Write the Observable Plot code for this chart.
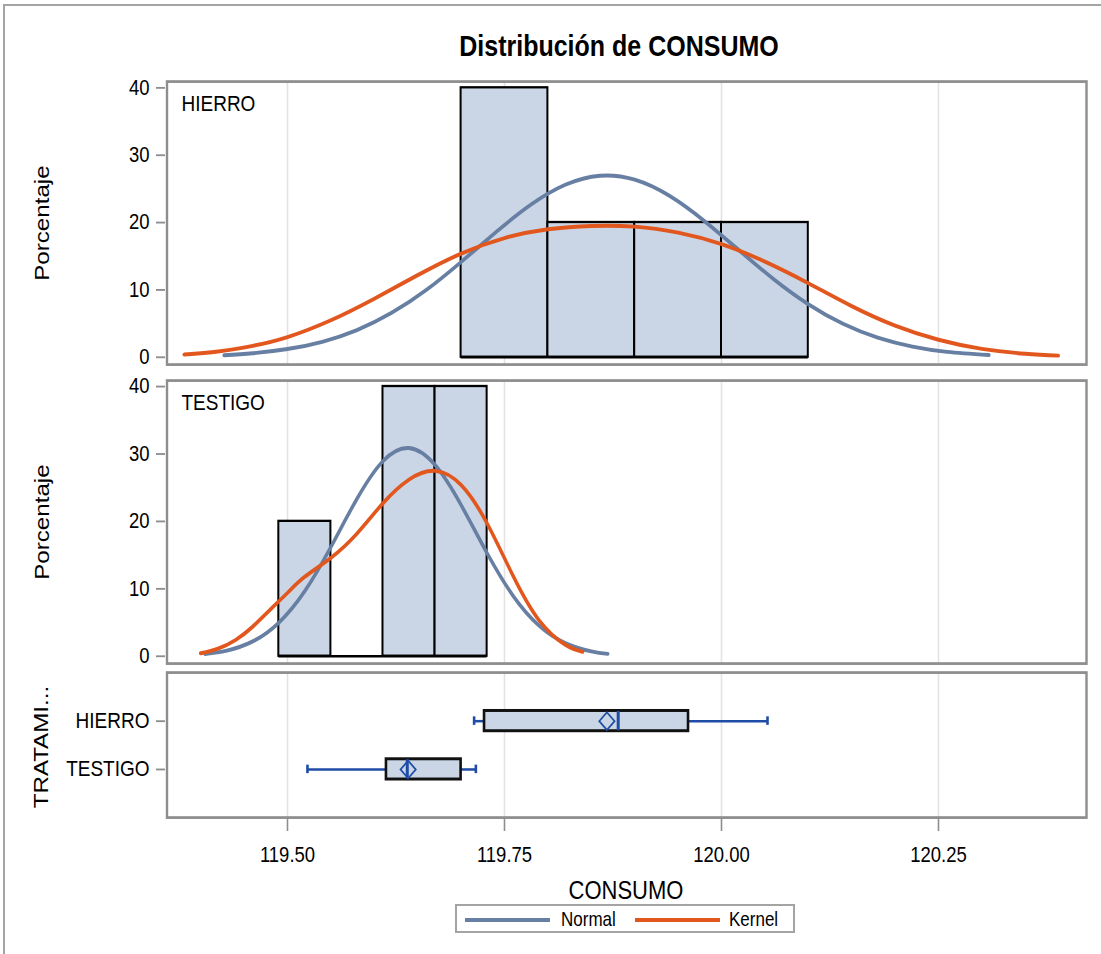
<!DOCTYPE html>
<html>
<head>
<meta charset="utf-8">
<script src="https://cdn.jsdelivr.net/npm/d3@7"></script>
<script src="https://cdn.jsdelivr.net/npm/@observablehq/plot@0.6"></script>
<style>
  html, body { margin: 0; padding: 0; background: #fff; }
  #page { position: relative; width: 1101px; height: 954px; overflow: hidden; background: #fff;
          font-family: "Liberation Sans", Arial, sans-serif; color: #000; }
  #border { position: absolute; left: 3px; top: 4px; width: 1200px; height: 1100px;
            border-top: 2px solid #a4a4a4; border-left: 2px solid #a4a4a4; }
  .panel { position: absolute; left: 0; }
  #title { position: absolute; top: 32px; left: 619px; transform: translateX(-50%) scaleY(1.15);
           transform-origin: 50% 0; font-size: 25px; font-weight: bold; line-height: 25px; white-space: nowrap; }
  #legend { position: absolute; left: 455px; top: 904px; width: 340px; height: 29px;
            border: 2px solid #a4a4a4; box-sizing: border-box; }
  .swatch { position: absolute; height: 4px; }
  .ltext { position: absolute; font-size: 17px; line-height: 17px; white-space: nowrap;
           transform: scaleY(1.15); transform-origin: 0 50%; }
</style>
</head>
<body>
<div id="page">
  <div id="border"></div>
  <div id="title">Distribución de CONSUMO</div>
  <div id="p1" class="panel" style="top:75px"></div>
  <div id="p2" class="panel" style="top:372px"></div>
  <div id="p3" class="panel" style="top:670px"></div>
  <div id="legend"></div>
</div>
<script>
// ---------- data ----------
const xTicks = [119.50, 119.75, 120.00, 120.25];
const yTicks = [0, 10, 20, 30, 40];
const groups = ["HIERRO", "TESTIGO"];
const seriesNames = ["Normal", "Kernel"];
const seriesColors = ["#667fa2", "#e2571e"];

// histograms (percent per bin)
const hierroBinEdges = [119.70, 119.80, 119.90, 120.00, 120.10];
const hierroPercent = [40, 20, 20, 20];
const testigoBinEdges = [119.49, 119.55, 119.61, 119.67, 119.73];
const testigoPercent = [20, 0, 40, 40];

// HIERRO normal curve
const hierroNormalX = [119.427, 119.46, 119.50, 119.54, 119.58, 119.62, 119.66, 119.70, 119.74, 119.78, 119.82, 119.86, 119.90, 119.94, 119.98, 120.02, 120.06, 120.10, 120.14, 120.18, 120.22, 120.26, 120.308];
const hierroNormalY = [0.31, 0.60, 1.22, 2.30, 4.04, 6.60, 10.0, 14.15, 18.56, 22.62, 25.61, 26.96, 26.37, 23.98, 20.26, 15.91, 11.61, 7.88, 4.97, 2.91, 1.58, 0.80, 0.33];
// HIERRO kernel curve
const hierroKernelX = [119.381, 119.42, 119.46, 119.50, 119.55, 119.60, 119.65, 119.70, 119.75, 119.80, 119.85, 119.90, 119.95, 120.00, 120.05, 120.10, 120.15, 120.20, 120.25, 120.30, 120.35, 120.388];
const hierroKernelY = [0.4, 0.86, 1.7, 3.0, 5.5, 8.7, 12.2, 15.4, 17.7, 19.0, 19.5, 19.4, 18.5, 16.8, 14.2, 11.0, 7.6, 4.7, 2.6, 1.25, 0.53, 0.25];

// TESTIGO normal curve
const testigoNormalX = [119.405, 119.43, 119.46, 119.49, 119.52, 119.55, 119.58, 119.61, 119.64, 119.67, 119.70, 119.73, 119.76, 119.79, 119.82, 119.85, 119.869];
const testigoNormalY = [0.34, 0.84, 2.21, 4.99, 9.69, 16.22, 23.35, 28.95, 30.89, 28.37, 22.43, 15.28, 8.95, 4.52, 1.96, 0.73, 0.36];
// TESTIGO kernel curve
const testigoKernelX = [119.40, 119.42, 119.44, 119.46, 119.48, 119.50, 119.52, 119.55, 119.58, 119.61, 119.64, 119.67, 119.70, 119.73, 119.76, 119.79, 119.82, 119.84];
const testigoKernelY = [0.45, 1.15, 2.4, 4.4, 6.9, 9.4, 11.8, 14.6, 18.2, 22.7, 26.2, 27.5, 25.4, 19.7, 11.9, 5.3, 1.7, 0.65];

// box plot statistics (HIERRO, TESTIGO)
const boxMin = [119.715, 119.523];
const boxQ1 = [119.727, 119.614];
const boxMedian = [119.881, 119.638];
const boxMean = [119.868, 119.639];
const boxQ3 = [119.962, 119.700];
const boxMax = [120.053, 119.717];

// ---------- layout / style ----------
const S = 1.15;                 // vertical stretch of the reference rendering
const W = 1101, ML = 165, MR = 15;
const xDomain = [119.35945, 120.42051];
const FONT = "'Liberation Sans', Arial, sans-serif";
const frameColor = "#8e8e8e";
const gridColor = "#e3e3e3";
const barFill = "#cad5e5";
const whiskerColor = "#1f4ca6";

function styleFor(h) {
  return {fontFamily: FONT, fontSize: "18px", color: "#000", background: "transparent",
          overflow: "visible", height: h + "px", maxWidth: "none"};
}
function stretch(svg, h) {
  svg.setAttribute("height", h);
  svg.setAttribute("preserveAspectRatio", "none");
  return svg;
}

function histPlot(label, edges, pct, nX, nY, kX, kY, yDomain, h, mt, mb) {
  const bins = pct.map((p, i) => ({x1: edges[i], x2: edges[i + 1], p}));
  const normal = nX.map((x, i) => ({x, y: nY[i]}));
  const kernel = kX.map((x, i) => ({x, y: kY[i]}));
  const svg = Plot.plot({
    width: W, height: h / S, marginLeft: ML, marginRight: MR, marginTop: mt / S, marginBottom: mb / S,
    style: styleFor(h),
    x: {domain: xDomain, axis: null},
    y: {domain: yDomain, axis: null},
    marks: [
      Plot.gridX(xTicks, {stroke: gridColor, strokeOpacity: 1, strokeWidth: 1.6}),
      Plot.rectY(bins, {x1: "x1", x2: "x2", y1: 0, y2: "p", inset: 0, fill: barFill, stroke: "#000", strokeWidth: 2}),
      Plot.ruleY(bins, {x1: "x1", x2: "x2", y: 0, stroke: "#000", strokeWidth: 2}),
      Plot.line(normal, {x: "x", y: "y", stroke: seriesColors[0], strokeWidth: 3.4, curve: "natural"}),
      Plot.line(kernel, {x: "x", y: "y", stroke: seriesColors[1], strokeWidth: 3.4, curve: "natural"}),
      Plot.frame({stroke: frameColor, strokeWidth: 2.4, insetLeft: 1.5}),
      Plot.axisY(yTicks, {tickSize: 9, tickPadding: 7, stroke: frameColor, strokeWidth: 1.6, fontSize: 18.5, label: null}),
      Plot.text([label], {frameAnchor: "top-left", text: d => d, dx: 16, dy: 12.3, lineAnchor: "top", textAnchor: "start", fontSize: 19}),
      Plot.text(["Porcentaje"], {frameAnchor: "left", text: d => d, rotate: -90, dx: -123, fontSize: 21, textAnchor: "middle", lineAnchor: "middle"})
    ]
  });
  return stretch(svg, h);
}

document.getElementById("p1").append(
  histPlot("HIERRO", hierroBinEdges, hierroPercent, hierroNormalX, hierroNormalY, hierroKernelX, hierroKernelY,
           [-1.084, 40.935], 295, 6, 6));
document.getElementById("p2").append(
  histPlot("TESTIGO", testigoBinEdges, testigoPercent, testigoNormalX, testigoNormalY, testigoKernelX, testigoKernelY,
           [-1.083, 40.89], 298, 8, 7));

const boxData = groups.map((g, i) => ({
  group: g, min: boxMin[i], q1: boxQ1[i], median: boxMedian[i], mean: boxMean[i], q3: boxQ3[i], max: boxMax[i]
}));

const H3 = 230;
document.getElementById("p3").append(stretch(Plot.plot({
  width: W, height: H3 / S, marginLeft: ML, marginRight: MR, marginTop: 2 / S, marginBottom: 83 / S,
  style: styleFor(H3),
  x: {domain: xDomain},
  y: {type: "band", domain: groups, paddingInner: 0.1, paddingOuter: 0.53},
  marks: [
    Plot.gridX(xTicks, {stroke: gridColor, strokeOpacity: 1, strokeWidth: 1.6}),
    Plot.ruleY(boxData, {y: "group", x1: "min", x2: "q1", stroke: whiskerColor, strokeWidth: 2.2}),
    Plot.ruleY(boxData, {y: "group", x1: "q3", x2: "max", stroke: whiskerColor, strokeWidth: 2.2}),
    Plot.tickX(boxData, {y: "group", x: "min", stroke: whiskerColor, strokeWidth: 2.6, insetTop: 15.3, insetBottom: 15.3}),
    Plot.tickX(boxData, {y: "group", x: "max", stroke: whiskerColor, strokeWidth: 2.6, insetTop: 15.3, insetBottom: 15.3}),
    Plot.barX(boxData, {y: "group", x1: "q1", x2: "q3", fill: barFill, stroke: "#111", strokeWidth: 2.6, insetTop: 10.2, insetBottom: 10.2}),
    Plot.tickX(boxData, {y: "group", x: "median", stroke: whiskerColor, strokeWidth: 3, insetTop: 10.6, insetBottom: 10.6}),
    Plot.dot(boxData, {y: "group", x: "mean", symbol: "diamond2", r: 6.9, stroke: whiskerColor, strokeWidth: 1.6, fill: "none"}),
    Plot.frame({stroke: frameColor, strokeWidth: 2.4, insetLeft: 1.5}),
    Plot.axisY({tickSize: 9, tickPadding: 7, stroke: frameColor, strokeWidth: 1.6, fontSize: 19, label: null}),
    Plot.axisX(xTicks, {tickFormat: d3.format(".2f"), tickSize: 14 / S, tickPadding: 15 / S, stroke: frameColor, strokeWidth: 1.6, fontSize: 18.5, label: null}),
    Plot.text(["TRATAMI..."], {frameAnchor: "left", text: d => d, rotate: -90, dx: -124, dy: 2 / S, fontSize: 21, textAnchor: "middle", lineAnchor: "middle"}),
    Plot.text(["CONSUMO"], {frameAnchor: "bottom", text: d => d, dy: 73 / S, fontSize: 22, lineAnchor: "middle"})
  ]
}), H3));

// legend
const legend = document.getElementById("legend");
const swatchLeft = [8, 178];
const textLeft = [104, 272];
seriesNames.forEach((name, i) => {
  const sw = document.createElement("div");
  sw.className = "swatch";
  sw.style.left = swatchLeft[i] + "px";
  sw.style.width = "85px";
  sw.style.top = "11.5px";
  sw.style.background = seriesColors[i];
  legend.append(sw);
  const t = document.createElement("div");
  t.className = "ltext";
  t.style.left = textLeft[i] + "px";
  t.style.top = "5px";
  t.textContent = name;
  legend.append(t);
});
</script>
</body>
</html>
